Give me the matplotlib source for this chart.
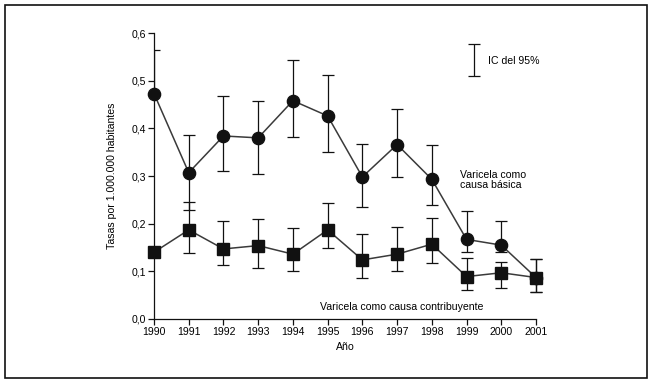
import numpy as np
import matplotlib.pyplot as plt
from matplotlib.patches import Rectangle
from matplotlib.transforms import Bbox, TransformedBbox
from matplotlib.legend_handler import HandlerErrorbar
from matplotlib.container import ErrorbarContainer

plt.rcParams['font.family'] = ['Liberation Sans', 'DejaVu Sans']

years = [1990, 1991, 1992, 1993, 1994, 1995, 1996, 1997, 1998, 1999, 2000, 2001]

# varicela como causa basica
basica = [0.473, 0.307, 0.384, 0.380, 0.458, 0.426, 0.298, 0.366, 0.293, 0.167, 0.155, 0.087]
basica_hi = [0.564, 0.385, 0.468, 0.457, 0.544, 0.511, 0.368, 0.440, 0.366, 0.227, 0.206, 0.126]
basica_lo = [0.473, 0.229, 0.310, 0.305, 0.382, 0.351, 0.234, 0.298, 0.239, 0.141, 0.140, 0.056]

# varicela como causa contribuyente
contrib = [0.140, 0.187, 0.147, 0.154, 0.136, 0.187, 0.124, 0.136, 0.157, 0.089, 0.097, 0.087]
contrib_hi = [0.140, 0.246, 0.206, 0.210, 0.190, 0.244, 0.178, 0.192, 0.211, 0.129, 0.120, 0.126]
contrib_lo = [0.140, 0.138, 0.113, 0.108, 0.101, 0.150, 0.087, 0.101, 0.117, 0.061, 0.066, 0.056]

yticks = [0.0, 0.1, 0.2, 0.3, 0.4, 0.5, 0.6]
ytick_labels = ['0,0', '0,1', '0,2', '0,3', '0,4', '0,5', '0,6']

fs = 7.6
line_col = '#3a3a3a'

fig = plt.figure(figsize=(6.51, 3.83), dpi=100)
ax = fig.add_axes([154 / 651, 1 - 319 / 383, 382 / 651, 286 / 383])

# clip errorbars only on the left (like the original print)
clip = TransformedBbox(Bbox([[0, -0.2], [1.2, 1.2]]), ax.transAxes)

def draw(vals, lo, hi, marker, ms):
    vals = np.array(vals)
    yerr = [vals - np.array(lo), np.array(hi) - vals]
    eb = ax.errorbar(years, vals, yerr=yerr, fmt='none', ecolor='#111111',
                     elinewidth=0.9, capsize=4.5, capthick=0.9, zorder=2)
    for a in eb.get_children():
        a.set_clip_box(clip)
    ax.plot(years, vals, color=line_col, lw=1.1, zorder=3)
    ax.plot(years, vals, ls='none', marker=marker, ms=ms, color='#111111',
            zorder=4, clip_on=False)

draw(basica, basica_lo, basica_hi, 'o', 8.8)
draw(contrib, contrib_lo, contrib_hi, 's', 8.0)

ax.set_xlim(1990, 2001)
ax.set_ylim(0, 0.6)
ax.set_xticks(years)
ax.set_xticklabels([str(y) for y in years], fontsize=fs)
ax.set_yticks(yticks)
ax.set_yticklabels(ytick_labels, fontsize=fs)
ax.tick_params(direction='out', length=4, width=0.9, pad=2, color='#111111')
for s in ['top', 'right']:
    ax.spines[s].set_visible(False)
for s in ['left', 'bottom']:
    ax.spines[s].set_linewidth(0.9)
    ax.spines[s].set_color('#111111')

ax.set_xlabel('Año', fontsize=fs, labelpad=3)
ax.set_ylabel('Tasas por 1.000.000 habitantes', fontsize=fs, labelpad=10)

ax.text(1998.82, 0.291, 'Varicela como\ncausa básica', fontsize=fs,
        va='center', ha='left', linespacing=1.0)
ax.text(1994.77, 0.026, 'Varicela como causa contribuyente', fontsize=fs,
        va='center', ha='left')

# IC legend
h = ax.errorbar([np.nan], [np.nan], yerr=[[0.1]], fmt='none', ecolor='#111111',
                elinewidth=0.9, capsize=4.5, capthick=0.9)
ax.legend([h], ['IC del 95%'], loc='center left', bbox_to_anchor=(0.821, 0.9035),
          frameon=False, fontsize=fs, handlelength=1.3, handletextpad=0.6,
          borderpad=0, borderaxespad=0,
          handler_map={ErrorbarContainer: HandlerErrorbar(yerr_size=1.55)})

fig.add_artist(Rectangle((5 / 651, 1 - 377.5 / 383), 642 / 651, 373 / 383,
                         transform=fig.transFigure, fill=False, lw=1.2,
                         edgecolor='#111111'))

fig.savefig('out.png', dpi=100)
